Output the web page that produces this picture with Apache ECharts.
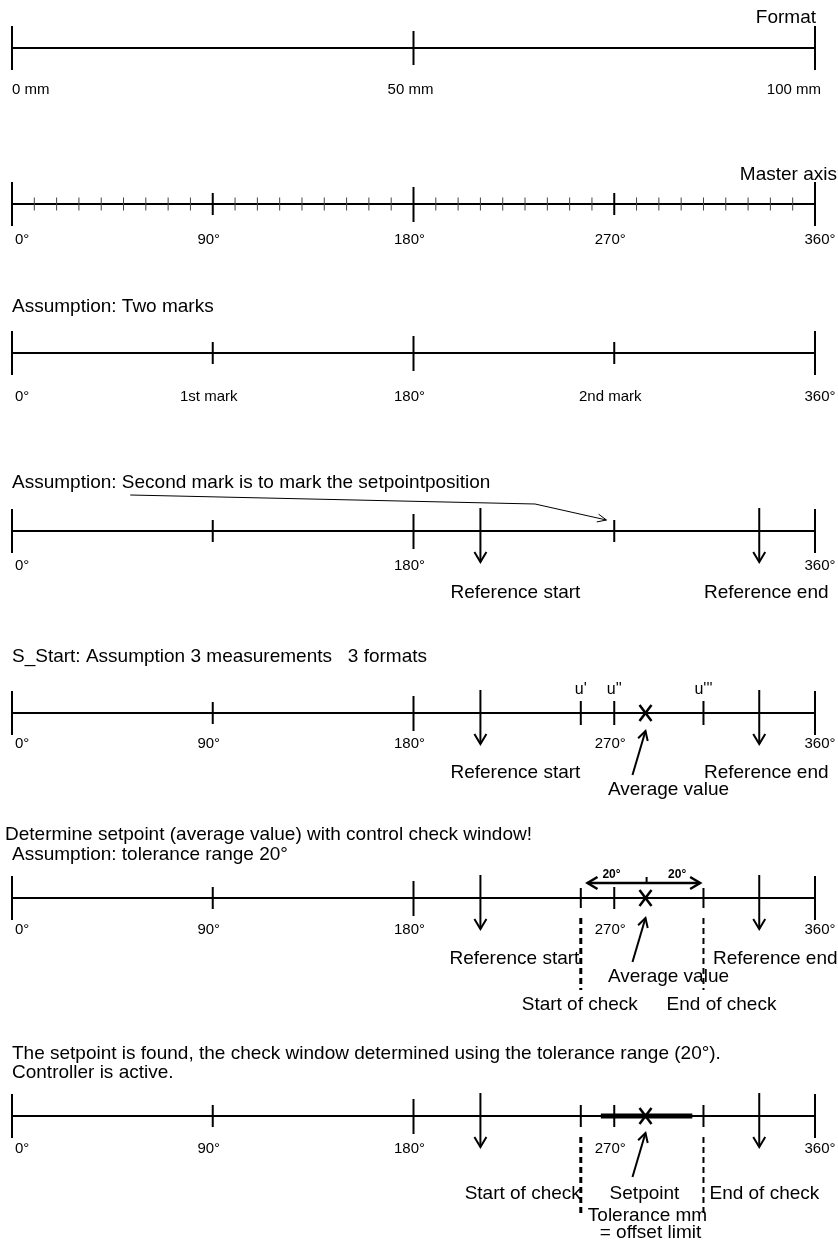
<!DOCTYPE html>
<html>
<head>
<meta charset="utf-8">
<script src="https://cdn.jsdelivr.net/npm/echarts@6/dist/echarts.min.js"></script>
<style>
  html, body { margin: 0; background: #fff; }
  #chart { width: 838px; height: 1243px; }
</style>
</head>
<body>
<div id="chart"></div>
<script>
// values (degrees of the master axis, mm for the format)
const formatTicks = [0, 50, 100];
const formatLabels = ['0 mm', '50 mm', '100 mm'];
const degreeTicks = [0, 90, 180, 270, 360];
const degreeLabels = ['0°', '90°', '180°', '270°', '360°'];
const minorTicks = [10, 20, 30, 40, 50, 60, 70, 80, 100, 110, 120, 130, 140, 150, 160, 170,
  190, 200, 210, 220, 230, 240, 250, 260, 280, 290, 300, 310, 320, 330, 340, 350];
const markLabels = ['0°', '1st mark', '180°', '2nd mark', '360°'];
const row4Labels = ['0°', '', '180°', '', '360°'];
const referencePos = [210, 335];
const referenceNames = ['Reference start', 'Reference end'];
const measurePos = [255, 270, 310];
const measureNames = ["u'", "u''", "u'''"];
const setpoint = 284;
const checkPos = [255, 310];
const checkNames = ['Start of check', 'End of check'];
const tolerancePos = [258, 308.5];
const toleranceLabels = ['20°', '20°'];
const toleranceBand = [264, 305];

const FONT = "'Liberation Sans', Arial, sans-serif";

// layout of the seven rulers (pixel y of the axis line)
const rows = [
  { line: 48, max: 100 },
  { line: 204, max: 360 },
  { line: 353, max: 360 },
  { line: 531, max: 360 },
  { line: 713, max: 360 },
  { line: 898, max: 360 },
  { line: 1116, max: 360 }
];

// leader from the heading down to the 2nd mark: [degree, px above line]
const leaderPath = [[53, 36], [234.5, 27], [266.5, 11]];

function seg(x1, y1, x2, y2, w, dash) {
  return { type: 'line', shape: { x1: x1, y1: y1, x2: x2, y2: y2 },
    style: { stroke: '#000', lineWidth: w || 2, lineDash: dash || null } };
}
function poly(points, w) {
  return { type: 'polyline', shape: { points: points },
    style: { stroke: '#000', fill: null, lineWidth: w || 2 } };
}
function txt(x, y, text, size, align, weight) {
  return { type: 'text', x: x, y: y,
    style: { text: text, font: (weight || 'normal') + ' ' + size + 'px ' + FONT, fill: '#000',
      align: align || 'center', verticalAlign: 'middle',
      textAlign: align || 'center', textVerticalAlign: 'middle' } };
}
function head(tip, from, len, half, w) {
  const dx = tip[0] - from[0], dy = tip[1] - from[1];
  const d = Math.sqrt(dx * dx + dy * dy);
  const ux = dx / d, uy = dy / d;
  return poly([
    [tip[0] - ux * len - uy * half, tip[1] - uy * len + ux * half],
    tip,
    [tip[0] - ux * len + uy * half, tip[1] - uy * len - ux * half]
  ], w);
}

// item builders, drawn from the data value through api.coord
const tick = (x, up, down, w, color) => ({ x: x, draw: p => {
  const s = seg(p[0], p[1] - up, p[0], p[1] + down, w || 2);
  if (color) s.style.stroke = color;
  return [s];
} });
const label = (x, text, dx, dy, size, align, weight) => ({ x: x, draw: p => [txt(p[0] + dx, p[1] + dy, text, size, align, weight)] });
const refArrow = x => ({ x: x, draw: p => [
  seg(p[0], p[1] - 23, p[0], p[1] + 31, 2),
  poly([[p[0] - 6, p[1] + 21], [p[0], p[1] + 31], [p[0] + 6, p[1] + 21]], 2)
] });
const cross = x => ({ x: x, draw: p => [
  seg(p[0] - 6, p[1] - 8, p[0] + 6, p[1] + 8, 2.5),
  seg(p[0] + 6, p[1] - 8, p[0] - 6, p[1] + 8, 2.5)
] });
const avgArrow = (x, tipDy, tailDy) => ({ x: x, draw: p => {
  const tip = [p[0], p[1] + tipDy], tail = [p[0] - 13, p[1] + tailDy];
  return [seg(tail[0], tail[1], tip[0], tip[1], 2), head(tip, tail, 9, 5, 2)];
} });
const dashed = (x, y1, y2, w) => ({ x: x, draw: p => [seg(p[0], p[1] + y1, p[0], p[1] + y2, w, [6, 4])] });
const band = (x1, x2, w) => ({ x: x1, draw: (p, api) => {
  const q = api.coord([x2, 0]);
  return [seg(p[0], p[1], q[0], p[1], w)];
} });
const doubleArrow = (x1, x2, mid, dy) => ({ x: x1, draw: (p, api) => {
  const q = api.coord([x2, 0]), m = api.coord([mid, 0]);
  const y = p[1] + dy;
  return [
    seg(p[0], y, q[0], y, 2.5),
    head([p[0], y], [q[0], y], 10, 6, 2.5),
    head([q[0], y], [p[0], y], 10, 6, 2.5),
    seg(m[0], y, m[0], y - 6, 2)
  ];
} });
const leader = path => ({ x: path[0][0], draw: (p, api) => {
  const pts = path.map(d => { const c = api.coord([d[0], 0]); return [c[0], c[1] - d[1]]; });
  return [poly(pts, 1), head(pts[2], pts[1], 9, 4, 1)];
} });

function degreeRow(labels, dy, size) {
  return labels.map((t, i) => {
    if (!t) return null;
    if (i === 0) return label(degreeTicks[i], t, 3, dy, size, 'left');
    if (i === labels.length - 1) return label(degreeTicks[i], t, 5, dy, size, 'center');
    return label(degreeTicks[i], t, -4, dy, size, 'center');
  }).filter(Boolean);
}
function mainTicks(list) {
  return list.map(v => {
    if (v === 0 || v === 360) return tick(v, 22, 22, 2);
    if (v === 180) return tick(v, 17, 18, 2);
    return tick(v, 11, 11, 2);
  });
}

const rowItems = [];
// 1 format
rowItems.push([
  tick(formatTicks[0], 22, 22, 2), tick(formatTicks[1], 17, 17, 2), tick(formatTicks[2], 22, 22, 2),
  label(formatTicks[0], formatLabels[0], 0, 42, 15, 'left'),
  label(formatTicks[1], formatLabels[1], -3, 42, 15, 'center'),
  label(formatTicks[2], formatLabels[2], 6, 42, 15, 'right')
]);
// 2 master axis
rowItems.push([].concat(
  minorTicks.map(v => tick(v, 6.5, 6.5, 1, '#444')),
  mainTicks(degreeTicks),
  degreeRow(degreeLabels, 36, 15)
));
// 3 two marks
rowItems.push([].concat(mainTicks(degreeTicks), degreeRow(markLabels, 44, 15)));
// 4 second mark is the setpoint position
rowItems.push([].concat(
  mainTicks(degreeTicks),
  degreeRow(row4Labels, 35, 15),
  referencePos.map(refArrow),
  [label(referencePos[0], referenceNames[0], 35, 62, 19), label(referencePos[1], referenceNames[1], 7, 62, 19)],
  [leader(leaderPath)]
));
// 5 three measurements
rowItems.push([].concat(
  mainTicks([0, 90, 180, 360]),
  measurePos.map(v => tick(v, 12, 12, 2)),
  measurePos.map((v, i) => label(v, measureNames[i], 0, -23, 16)),
  [cross(setpoint)],
  referencePos.map(refArrow),
  degreeRow(degreeLabels, 31, 15),
  [label(referencePos[0], referenceNames[0], 35, 60, 19), label(referencePos[1], referenceNames[1], 7, 60, 19)],
  [avgArrow(setpoint, 18, 62), label(setpoint, 'Average value', 23, 77, 19)]
));
// 6 check window
rowItems.push([].concat(
  mainTicks(degreeTicks),
  checkPos.map(v => tick(v, 10, 10, 2)),
  [dashed(checkPos[0], 20, 92, 3), dashed(checkPos[1], 20, 92, 2)],
  [doubleArrow(tolerancePos[0], tolerancePos[1], setpoint + 0.5, -15)],
  [label(tolerancePos[0], toleranceLabels[0], 24, -23, 12, 'center', 'bold'),
   label(tolerancePos[1], toleranceLabels[1], -23, -23, 12, 'center', 'bold')],
  [cross(setpoint)],
  referencePos.map(refArrow),
  degreeRow(degreeLabels, 32, 15),
  [label(referencePos[0], referenceNames[0], 34, 61, 19), label(referencePos[1], referenceNames[1], 16, 61, 19)],
  [avgArrow(setpoint, 20, 64), label(setpoint, 'Average value', 23, 79, 19)],
  [label(checkPos[0], checkNames[0], -1, 107, 19), label(checkPos[1], checkNames[1], 18, 107, 19)]
));
// 7 controller active
rowItems.push([].concat(
  mainTicks(degreeTicks),
  checkPos.map(v => tick(v, 11, 11, 2)),
  [dashed(checkPos[0], 21, 99, 3), dashed(checkPos[1], 21, 99, 2)],
  [band(toleranceBand[0], toleranceBand[1], 5)],
  [cross(setpoint)],
  referencePos.map(refArrow),
  degreeRow(degreeLabels, 33, 15),
  [avgArrow(setpoint, 17, 61)],
  [label(checkPos[0], checkNames[0], 0, 78, 19, 'right'), label(checkPos[1], checkNames[1], 6, 78, 19, 'left')],
  [label(setpoint, 'Setpoint', -1, 78, 19), label(setpoint, 'Tolerance mm', 2, 100, 19), label(setpoint, '= offset limit', 5, 117, 19)]
));

const headings = [
  { text: 'Format', x: 816, y: 18, align: 'right' },
  { text: 'Master axis', x: 837, y: 175, align: 'right' },
  { text: 'Assumption: Two marks', x: 12, y: 307 },
  { text: 'Assumption: Second mark is to mark the setpointposition', x: 12, y: 483 },
  { text: 'S_Start: Assumption 3 measurements   3 formats', x: 12, y: 657 },
  { text: 'Determine setpoint (average value) with control check window!', x: 5, y: 835 },
  { text: 'Assumption: tolerance range 20°', x: 12, y: 855 },
  { text: 'The setpoint is found, the check window determined using the tolerance range (20°).', x: 12, y: 1054 },
  { text: 'Controller is active.', x: 12, y: 1073 }
];

const chart = echarts.init(document.getElementById('chart'));
chart.setOption({
  backgroundColor: '#fff',
  animation: false,
  grid: rows.map(r => ({ left: 12, width: 803, top: r.line - 40, height: 40 })),
  xAxis: rows.map((r, i) => ({
    gridIndex: i, type: 'value', min: 0, max: r.max,
    axisLine: { show: true, onZero: false, lineStyle: { color: '#000', width: 2 } },
    axisTick: { show: false }, axisLabel: { show: false }, splitLine: { show: false }
  })),
  yAxis: rows.map((r, i) => ({ gridIndex: i, type: 'value', min: 0, max: 40, show: false })),
  graphic: headings.map(h => txt(h.x, h.y, h.text, 19, h.align || 'left')),
  series: rowItems.map((items, i) => ({
    type: 'custom', xAxisIndex: i, yAxisIndex: i, silent: true, clip: false,
    data: items.map(it => [it.x, 0]),
    renderItem: function (params, api) {
      const it = items[params.dataIndex];
      const p = api.coord([api.value(0), api.value(1)]);
      return { type: 'group', children: it.draw(p, api) };
    }
  }))
});
</script>
</body>
</html>
